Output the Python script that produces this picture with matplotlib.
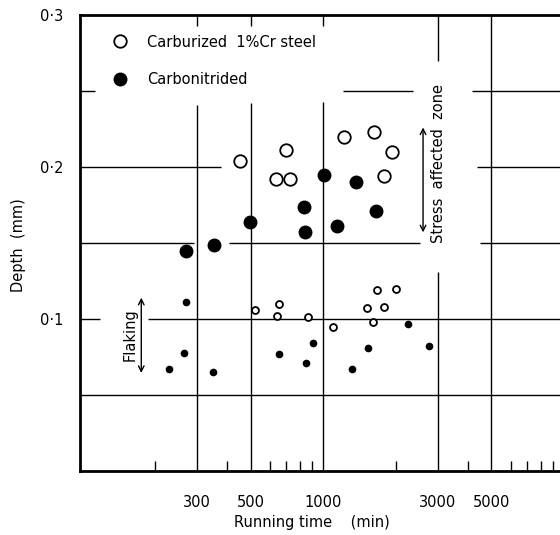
import matplotlib
matplotlib.use("Agg")
import matplotlib.pyplot as plt
from matplotlib.lines import Line2D

plt.rcParams['font.family'] = ['DejaVu Sans']

# --- data ---
carb_big_x = [450, 700, 636, 730, 1219, 1633, 1928, 1796]
carb_big_y = [0.204, 0.211, 0.192, 0.192, 0.220, 0.223, 0.210, 0.194]
cn_big_x = [269, 354, 498, 1007, 1375, 834, 842, 1140, 1655]
cn_big_y = [0.145, 0.149, 0.164, 0.195, 0.190, 0.1735, 0.1575, 0.161, 0.171]
carb_small_x = [522, 659, 642, 869, 1097, 1527, 1680, 1791, 2009, 1617]
carb_small_y = [0.106, 0.110, 0.102, 0.101, 0.095, 0.107, 0.119, 0.108, 0.120, 0.098]
cn_small_x = [269, 264, 230, 349, 659, 906, 848, 1315, 1542, 2259, 2762]
cn_small_y = [0.1115, 0.0775, 0.067, 0.065, 0.077, 0.084, 0.071, 0.067, 0.081, 0.0965, 0.082]

xtick_vals = [300, 500, 1000, 3000, 5000]
xtick_labels = ["300", "500", "1000", "3000", "5000"]
ytick_vals = [0.1, 0.2, 0.3]
ytick_labels = ["0·1", "0·2", "0·3"]
legend_labels = ["Carburized  1%Cr steel", "Carbonitrided"]

FS = 10.5

fig = plt.figure(figsize=(5.6, 5.35), dpi=100)
ax = fig.add_axes([80/560, 64/535, 484/560, 456/535])
ax.set_xscale('log')
ax.set_xlim(98, 10000)
ax.set_ylim(0, 0.3)

# grid segments (broken, as in the original)
lw_g = 1.0
hsegs = {
    0.25: [(98, 113), (1210, 2361), (4154, 10000)],
    0.20: [(98, 377), (4352, 10000)],
    0.15: [(98, 290), (407, 2526), (4479, 10000)],
    0.10: [(98, 119), (188, 10000)],
    0.05: [(98, 10000)],
}
for yv, segs in hsegs.items():
    for a, b in segs:
        ax.hlines(yv, a, b, colors='black', lw=lw_g, zorder=1)
vsegs = {
    300: [(0, 0.241), (0.293, 0.3)],
    500: [(0, 0.242), (0.293, 0.3)],
    1000: [(0, 0.243), (0.293, 0.3)],
    3000: [(0, 0.131), (0.270, 0.3)],
    5000: [(0, 0.3)],
}
for xv, segs in vsegs.items():
    for a, b in segs:
        ax.vlines(xv, a, b, colors='black', lw=lw_g, zorder=1)

# data
ax.plot(carb_big_x, carb_big_y, 'o', ms=9, mfc='white', mec='black', mew=1.3, ls='none', zorder=3)
ax.plot(cn_big_x, cn_big_y, 'o', ms=9, mfc='black', mec='black', ls='none', zorder=3)
ax.plot(carb_small_x, carb_small_y, 'o', ms=5, mfc='white', mec='black', mew=1.3, ls='none', zorder=3)
ax.plot(cn_small_x, cn_small_y, 'o', ms=4.5, mfc='black', mec='black', ls='none', zorder=3)

# axes styling
for s in ['left', 'bottom', 'top']:
    ax.spines[s].set_linewidth(2)
ax.spines['right'].set_visible(False)
ax.set_xticks(xtick_vals, xtick_labels)
minor = [200, 400, 600, 700, 800, 900, 2000, 4000, 6000, 7000, 8000, 9000]
ax.set_xticks(minor, minor=True)
ax.xaxis.set_minor_formatter(matplotlib.ticker.NullFormatter())
ax.tick_params(axis='x', which='major', length=0, pad=17, labelsize=FS)
ax.tick_params(axis='x', which='minor', direction='in', length=7, width=1)
ax.set_yticks(ytick_vals, ytick_labels)
ax.tick_params(axis='y', length=0, pad=12, labelsize=FS)

fig.text(19/560, 1 - 245/535, "Depth  (mm)", rotation=90, ha='center', va='center', fontsize=FS)
fig.text(312/560, 1 - 523/535, "Running time    (min)", ha='center', va='center', fontsize=FS)

# legend
handles = [Line2D([], [], marker='o', ms=9, mfc='white', mec='black', mew=1.3, ls='none'),
           Line2D([], [], marker='o', ms=9, mfc='black', mec='black', ls='none')]
leg = ax.legend(handles, legend_labels, loc='upper left', bbox_to_anchor=(0.055, 0.97),
                frameon=False, fontsize=FS, labelspacing=1.55, handletextpad=1.35,
                handlelength=1.0, borderaxespad=0)

# annotations
ax.annotate('', xy=(2600, 0.157), xytext=(2600, 0.226),
            arrowprops=dict(arrowstyle='<->', lw=1, color='black', shrinkA=0, shrinkB=0))
ax.text(3000, 0.202, "Stress  affected  zone", rotation=90, ha='center', va='center', fontsize=FS)
ax.annotate('', xy=(176, 0.0645), xytext=(176, 0.114),
            arrowprops=dict(arrowstyle='<->', lw=1, color='black', shrinkA=0, shrinkB=0))
ax.text(158, 0.0895, "Flaking", rotation=90, ha='center', va='center', fontsize=FS)

fig.savefig("out.png", dpi=100)
